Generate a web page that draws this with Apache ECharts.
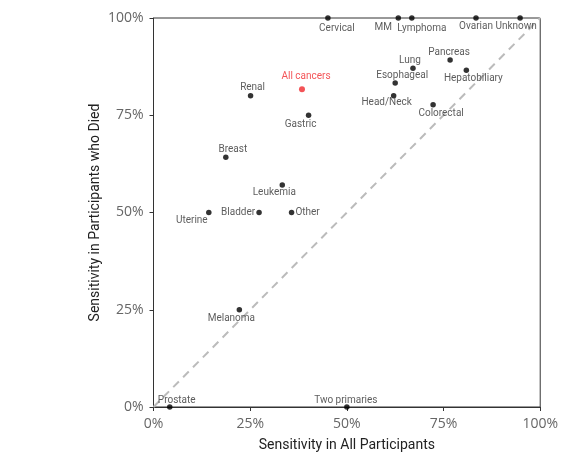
<!DOCTYPE html>
<html>
<head>
<meta charset="utf-8">
<script src="https://cdn.jsdelivr.net/npm/echarts@6/dist/echarts.min.js"></script>
<style>html,body{margin:0;padding:0;background:#fff;overflow:hidden}#c{width:561px;height:457px}</style>
</head>
<body>
<div id="c"></div>
<script>
const names = ['Cervical','MM','Lymphoma','Ovarian','Unknown','Pancreas','Lung','Hepatobiliary','Esophageal','Renal','Head/Neck','Colorectal','Gastric','Breast','Leukemia','Uterine','Bladder','Other','Melanoma','Prostate','Two primaries'];
const sensAll =  [0.451,0.633,0.668,0.834,0.948,0.767,0.671,0.809,0.625,0.251,0.621,0.723,0.401,0.187,0.333,0.143,0.273,0.357,0.222,0.042,0.500];
const sensDied = [1.000,1.000,1.000,1.000,1.000,0.892,0.871,0.866,0.833,0.800,0.800,0.777,0.750,0.642,0.571,0.500,0.500,0.500,0.250,0.000,0.000];
const allCancers = {name:'All cancers', x:0.384, y:0.817};
const xTicks = ['0%','25%','50%','75%','100%'];
const yTicks = ['0%','25%','50%','75%','100%'];

// label placement (style only)
const labelOffsets = {
  'Cervical':[9,10],'MM':[-15,9],'Lymphoma':[10,10],'Ovarian':[0,8],'Unknown':[-4,8],
  'Pancreas':[-1,-8],'Lung':[-3,-8],'Hepatobiliary':[7,8],'Esophageal':[7,-7],'Renal':[2,-8],
  'Head/Neck':[-7,7],'Colorectal':[8,9],'Gastric':[-8,9],'Breast':[7,-8],'Leukemia':[-8,8],
  'Uterine':[-17,8],'Bladder':[-21,0],'Other':[16,0],'Melanoma':[-8,9],'Prostate':[7,-7],'Two primaries':[-1,-7]
};

const pts = names.map((n,i)=>({
  value:[sensAll[i], sensDied[i]], name:n,
  label:{show:true, position:'inside', offset:labelOffsets[n], formatter:n}
}));

const chart = echarts.init(document.getElementById('c'), null, {renderer:'canvas'});
const tickFont = '"Open Sans", Roboto, sans-serif';
const font = 'Roboto, "Liberation Sans", sans-serif';
chart.setOption({
  animation:false,
  grid:{left:153.5, right:20, top:18, bottom:46, show:true, borderColor:'#333', borderWidth:1, backgroundColor:'transparent'},
  xAxis:{
    type:'value', min:0, max:1, interval:0.25,
    name:'Sensitivity in All Participants', nameLocation:'middle', nameGap:31, nameMoveOverlap:false,
    nameTextStyle:{fontSize:14, color:'#222', fontFamily:font},
    axisLine:{show:true, lineStyle:{color:'#333', width:1}},
    axisTick:{show:true, length:4, lineStyle:{color:'#333'}},
    splitLine:{show:false},
    axisLabel:{fontSize:14, color:'#666', fontFamily:tickFont, margin:10,
      formatter:v=>xTicks[Math.round(v*4)]}
  },
  yAxis:{
    type:'value', min:0, max:1, interval:0.25,
    name:'Sensitivity in Participants who Died', nameLocation:'middle', nameGap:51, nameMoveOverlap:false,
    nameTextStyle:{fontSize:14, color:'#222', fontFamily:font},
    axisLine:{show:true, lineStyle:{color:'#333', width:1}},
    axisTick:{show:true, length:4, lineStyle:{color:'#333'}},
    splitLine:{show:false},
    axisLabel:{fontSize:14, color:'#666', fontFamily:tickFont, margin:10,
      formatter:v=>yTicks[Math.round(v*4)]}
  },
  series:[
    {type:'line', data:[[0,0],[1,1]], symbol:'none', silent:true, z:1,
      lineStyle:{color:'#bbb', width:2, type:[8,6]}},
    {type:'scatter', data:pts, symbolSize:5.5, clip:false, z:3,
      itemStyle:{color:'#000'},
      label:{fontSize:10, color:'#333', fontFamily:font}},
    {type:'scatter', data:[{value:[allCancers.x, allCancers.y], name:allCancers.name}], symbolSize:6, clip:false, z:4,
      itemStyle:{color:'#f0282d'},
      label:{show:true, position:'inside', offset:[4,-13], formatter:allCancers.name, fontSize:10, color:'#f0282d', fontFamily:font}}
  ]
});
</script>
</body>
</html>
